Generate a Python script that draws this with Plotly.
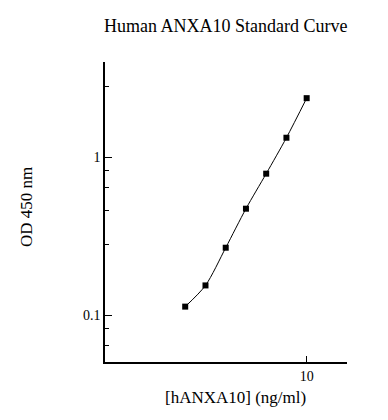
import plotly.graph_objects as go

concentration = [0.156, 0.3125, 0.625, 1.25, 2.5, 5, 10]
od450 = [0.113, 0.154, 0.267, 0.472, 0.787, 1.33, 2.37]
y_tick_vals = [0.1, 1]
y_tick_text = ["0.1", "1"]
y_minor_vals = [0.064, 0.082, 0.28, 0.46, 0.64, 0.82, 2.8]
x_tick_vals = [10]
x_tick_text = ["10"]

font_family = "Liberation Serif, Times New Roman, serif"

fig = go.Figure()
fig.add_trace(go.Scatter(
    x=concentration, y=od450, mode="lines+markers",
    line=dict(color="black", width=1, shape="spline", smoothing=0.8),
    marker=dict(symbol="square", size=6, color="black"),
    showlegend=False, hoverinfo="x+y",
))

fig.update_layout(
    width=388, height=420,
    margin=dict(l=105, r=41, t=62, b=58),
    paper_bgcolor="white", plot_bgcolor="white",
    font=dict(family=font_family, color="black", size=14),
    xaxis=dict(
        type="log", range=[-2.0, 1.6],
        tickmode="array", tickvals=x_tick_vals, ticktext=x_tick_text,
        ticks="inside", ticklen=6, tickwidth=1, tickcolor="black",
        showline=True, linecolor="black", linewidth=1.5,
        showgrid=False, zeroline=False,
        tickfont=dict(family=font_family, size=14),
    ),
    yaxis=dict(
        type="log", range=[-1.298, 0.604],
        tickmode="array", tickvals=y_tick_vals, ticktext=y_tick_text,
        ticks="inside", ticklen=7, tickwidth=1, tickcolor="black",
        showline=True, linecolor="black", linewidth=1.5,
        showgrid=False, zeroline=False,
        tickfont=dict(family=font_family, size=14),
        minor=dict(tickmode="array", tickvals=y_minor_vals, ticks="inside",
                   ticklen=4, tickwidth=1, tickcolor="black", showgrid=False),
    ),
    annotations=[
        dict(text="Human ANXA10 Standard Curve", x=225, y=26,
             showarrow=False, font=dict(family=font_family, size=18)),
        dict(text="[hANXA10] (ng/ml)", x=235, y=397, showarrow=False,
             font=dict(family=font_family, size=17)),
        dict(text="OD 450 nm", x=27, y=207, showarrow=False, textangle=-90,
             font=dict(family=font_family, size=17)),
    ],
)

# convert pixel-positioned annotations to paper coordinates
pw = 388 - 105 - 41
ph = 420 - 62 - 58
for a in fig.layout.annotations:
    px, py = a.x, a.y
    a.xref = "paper"
    a.yref = "paper"
    a.x = (px - 105) / pw
    a.y = (420 - 58 - py) / ph
    a.xanchor = "center"
    a.yanchor = "middle"

fig.write_html("out.html", config={"displayModeBar": False},
               post_script="document.body.style.margin='0';")
